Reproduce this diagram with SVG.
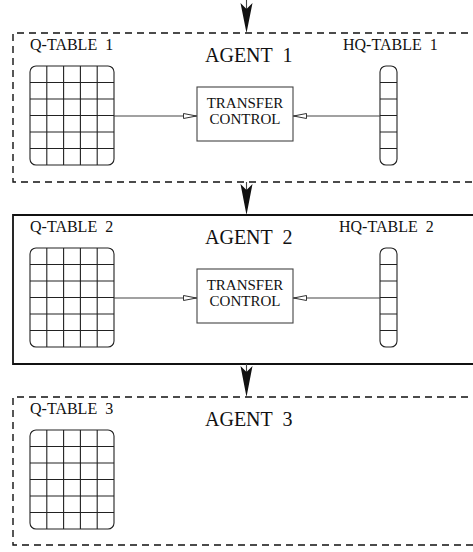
<svg xmlns="http://www.w3.org/2000/svg" width="473" height="552" viewBox="0 0 473 552">
<style>
.lbl{font-family:"Liberation Serif","Times New Roman",serif;font-size:16px;fill:#111}
.ag{font-family:"Liberation Serif","Times New Roman",serif;font-size:20px;fill:#111}
.tc{font-family:"Liberation Serif","Times New Roman",serif;font-size:15px;fill:#111;text-anchor:middle}
.dash{fill:none;stroke:#111;stroke-width:1.4;stroke-dasharray:7 5}
.solid{fill:none;stroke:#111;stroke-width:1.8}
.grid{fill:none;stroke:#222;stroke-width:1.1}
.box{fill:#fff;stroke:#444;stroke-width:1.1}
.conn{fill:none;stroke:#444;stroke-width:1.1}
.head{fill:#111;stroke:none}
</style>
<defs>
<marker id="open" viewBox="0 0 14 6" refX="14" refY="3" markerWidth="14" markerHeight="6" markerUnits="userSpaceOnUse" orient="auto">
<path d="M0.5,0.5 L13.5,3 L0.5,5.5 Z" fill="#fff" stroke="#333" stroke-width="1"/>
</marker>
<g id="qgrid">
<rect x="30" y="66" width="84" height="99" rx="6" class="grid"/>
<path class="grid" d="M46.8,66V165M63.6,66V165M80.4,66V165M97.2,66V165M30,82.5H114M30,99H114M30,115.5H114M30,132H114M30,148.5H114"/>
</g>
<g id="hqgrid">
<rect x="380" y="66" width="17" height="99" rx="6" class="grid"/>
<path class="grid" d="M380,82.5H397M380,99H397M380,115.5H397M380,132H397M380,148.5H397"/>
</g>
</defs>

<g id="agent1">
<path class="dash" d="M480,33H13V182H480"/>
<text class="lbl" x="30" y="50" xml:space="preserve">Q-TABLE  1</text>
<text class="ag" x="205" y="62" xml:space="preserve">AGENT  1</text>
<text class="lbl" x="343" y="50" xml:space="preserve">HQ-TABLE  1</text>
<use href="#qgrid"/>
<use href="#hqgrid"/>
<rect class="box" x="197" y="87" width="96" height="54"/>
<text class="tc" x="245" y="108">TRANSFER</text>
<text class="tc" x="245" y="124">CONTROL</text>
</g>

<g id="agent2" transform="translate(0,182)">
<path class="solid" d="M480,33H13V182H480"/>
<text class="lbl" x="30" y="50" xml:space="preserve">Q-TABLE  2</text>
<text class="ag" x="205" y="62" xml:space="preserve">AGENT  2</text>
<text class="lbl" x="339" y="50" xml:space="preserve">HQ-TABLE  2</text>
<use href="#qgrid"/>
<use href="#hqgrid"/>
<rect class="box" x="197" y="87" width="96" height="54"/>
<text class="tc" x="245" y="108">TRANSFER</text>
<text class="tc" x="245" y="124">CONTROL</text>
</g>

<g id="agent3" transform="translate(0,364)">
<path class="dash" d="M480,33H13V181H480"/>
<text class="lbl" x="30" y="50" xml:space="preserve">Q-TABLE  3</text>
<text class="ag" x="205" y="62" xml:space="preserve">AGENT  3</text>
<use href="#qgrid"/>
</g>

<g id="connectors">
<path class="conn" d="M114,116H197" marker-end="url(#open)"/>
<path class="conn" d="M380,116H293" marker-end="url(#open)"/>
<path class="conn" d="M114,298H197" marker-end="url(#open)"/>
<path class="conn" d="M380,298H293" marker-end="url(#open)"/>
<path class="conn" stroke="#111" d="M246.5,0V10M246.5,182V190M246.5,364V372"/>
<path class="head" d="M246.5,33L240.5,3L246.5,9L252.5,3Z"/>
<path class="head" d="M246.5,215L240.5,184L246.5,190L252.5,184Z"/>
<path class="head" d="M246.5,397L240.5,366L246.5,372L252.5,366Z"/>
</g>
</svg>
